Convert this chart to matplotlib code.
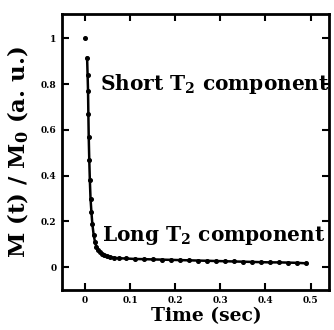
import numpy as np
import matplotlib
matplotlib.use('Agg')
import matplotlib.pyplot as plt
from matplotlib.ticker import FuncFormatter

# datos
tiempo = [0.0, 0.0044, 0.0055, 0.0065, 0.0072, 0.008, 0.0092, 0.0105, 0.012, 0.014,
          0.016, 0.019, 0.022, 0.025, 0.029, 0.033, 0.037, 0.042, 0.048, 0.055,
          0.065, 0.075, 0.09, 0.11, 0.13, 0.15, 0.17, 0.19, 0.21, 0.23, 0.25,
          0.27, 0.29, 0.31, 0.33, 0.35, 0.37, 0.39, 0.41, 0.43, 0.45, 0.47, 0.49]
magnetizacion = [1.0, 0.915, 0.84, 0.77, 0.67, 0.57, 0.47, 0.38, 0.30, 0.24,
                 0.19, 0.14, 0.11, 0.09, 0.075, 0.066, 0.058, 0.052, 0.047, 0.044,
                 0.041, 0.039, 0.038, 0.036, 0.035, 0.034, 0.033, 0.032, 0.031, 0.030, 0.029,
                 0.028, 0.027, 0.026, 0.025, 0.024, 0.023, 0.022, 0.021, 0.021, 0.020, 0.019, 0.017]

xticks = [0, 0.1, 0.2, 0.3, 0.4, 0.5]
yticks = [0, 0.2, 0.4, 0.6, 0.8, 1.0]

plt.rcParams['font.family'] = ['DejaVu Serif']
plt.rcParams['font.weight'] = 'bold'
plt.rcParams['mathtext.fontset'] = 'dejavuserif'
plt.rcParams['mathtext.default'] = 'bf'

fig = plt.figure(figsize=(3.34, 3.30), dpi=100)
ax = fig.add_axes([0.186, 0.121, 0.799, 0.837])

# ajuste (linea) y puntos medidos
ax.plot(tiempo[1:], magnetizacion[1:], color='black', lw=1.8)
ax.plot(tiempo, magnetizacion, 'o', color='black', ms=2.6)

ax.set_xlim(-0.051, 0.541)
ax.set_ylim(-0.1, 1.107)
ax.set_xticks(xticks)
ax.set_yticks(yticks)
fmt = FuncFormatter(lambda v, _: '0' if v == 0 else ('1' if v == 1 else f'{v:.1f}'))
ax.xaxis.set_major_formatter(fmt)
ax.yaxis.set_major_formatter(fmt)
ax.tick_params(direction='in', top=True, right=True, length=5, width=1.5,
               labelsize=6.5, pad=4)
for s in ax.spines.values():
    s.set_linewidth(2)

ax.text(0.034, 0.80, r'Short T$_2$ component', fontsize=14.5, fontweight='bold',
        va='center', ha='left')
ax.text(0.038, 0.14, r'Long T$_2$ component', fontsize=14.5, fontweight='bold',
        va='center', ha='left', clip_on=False)

ax.set_xlabel('Time (sec)', fontsize=13.5, fontweight='bold')
ax.set_ylabel(r'M (t) / M$_0$ (a. u.)', fontsize=16.5, fontweight='bold')
ax.xaxis.set_label_coords(0.54, -0.062)
ax.yaxis.set_label_coords(-0.115, 0.5)

fig.savefig('out.png', dpi=100)
